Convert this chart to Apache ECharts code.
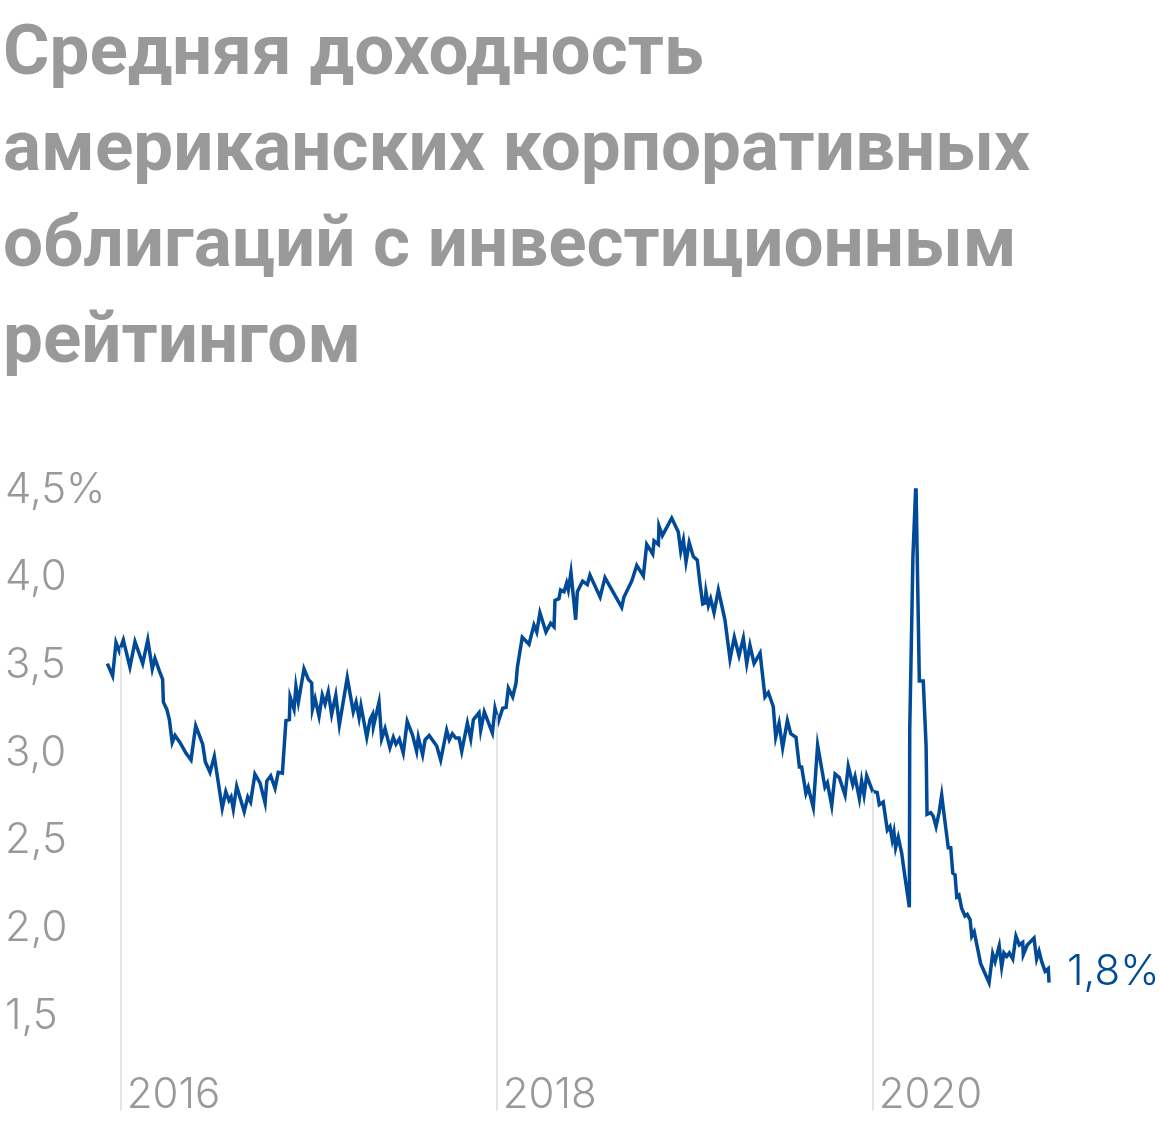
<!DOCTYPE html>
<html>
<head>
<meta charset="utf-8">
<script src="https://cdn.jsdelivr.net/npm/echarts@6/dist/echarts.min.js"></script>
<style>
  html, body { margin: 0; padding: 0; background: #fff; }
  #chart { width: 1160px; height: 1128px; }
</style>
</head>
<body>
<div id="chart"></div>
<script>
// дата в долях года -> доходность, %
const years = [
  2015.929, 2015.957, 2015.975, 2015.993, 2016.014, 2016.049, 2016.076, 2016.117, 2016.144, 2016.168,
  2016.182, 2016.205, 2016.223, 2016.227, 2016.245, 2016.259, 2016.274, 2016.289, 2016.315, 2016.347,
  2016.374, 2016.399, 2016.422, 2016.436, 2016.450, 2016.475, 2016.498, 2016.540, 2016.559, 2016.576,
  2016.587, 2016.599, 2016.617, 2016.657, 2016.676, 2016.691, 2016.714, 2016.741, 2016.768, 2016.777,
  2016.798, 2016.821, 2016.838, 2016.860, 2016.879, 2016.897, 2016.901, 2016.922, 2016.932, 2016.945,
  2016.975, 2016.998, 2017.016, 2017.020, 2017.034, 2017.055, 2017.072, 2017.087, 2017.104, 2017.122,
  2017.144, 2017.163, 2017.205, 2017.237, 2017.252, 2017.268, 2017.278, 2017.309, 2017.326, 2017.340,
  2017.344, 2017.374, 2017.388, 2017.406, 2017.432, 2017.450, 2017.464, 2017.482, 2017.503, 2017.524,
  2017.553, 2017.574, 2017.583, 2017.606, 2017.619, 2017.641, 2017.681, 2017.702, 2017.734, 2017.748,
  2017.764, 2017.782, 2017.800, 2017.814, 2017.844, 2017.862, 2017.876, 2017.906, 2017.915, 2017.934,
  2017.977, 2017.991, 2018.009, 2018.032, 2018.050, 2018.062, 2018.085, 2018.103, 2018.110, 2018.136,
  2018.172, 2018.198, 2018.213, 2018.230, 2018.262, 2018.287, 2018.305, 2018.310, 2018.331, 2018.340,
  2018.358, 2018.372, 2018.381, 2018.395, 2018.420, 2018.429, 2018.457, 2018.482, 2018.496, 2018.550,
  2018.576, 2018.665, 2018.677, 2018.718, 2018.745, 2018.780, 2018.798, 2018.830, 2018.837, 2018.860,
  2018.863, 2018.881, 2018.931, 2018.966, 2018.979, 2018.993, 2019.007, 2019.024, 2019.046, 2019.067,
  2019.081, 2019.096, 2019.108, 2019.113, 2019.126, 2019.138, 2019.156, 2019.179, 2019.214, 2019.241,
  2019.264, 2019.289, 2019.312, 2019.330, 2019.347, 2019.369, 2019.401, 2019.427, 2019.445, 2019.471,
  2019.484, 2019.502, 2019.521, 2019.546, 2019.564, 2019.592, 2019.610, 2019.622, 2019.645, 2019.657,
  2019.684, 2019.707, 2019.746, 2019.759, 2019.782, 2019.800, 2019.822, 2019.853, 2019.870, 2019.894,
  2019.906, 2019.929, 2019.941, 2019.954, 2019.968, 2020.000, 2020.024, 2020.035, 2020.056, 2020.078,
  2020.092, 2020.104, 2020.113, 2020.122, 2020.136, 2020.154, 2020.172, 2020.195, 2020.197, 2020.214,
  2020.230, 2020.248, 2020.269, 2020.284, 2020.289, 2020.309, 2020.322, 2020.337, 2020.353, 2020.367,
  2020.376, 2020.385, 2020.402, 2020.415, 2020.426, 2020.438, 2020.447, 2020.459, 2020.473, 2020.491,
  2020.503, 2020.518, 2020.527, 2020.540, 2020.574, 2020.619, 2020.638, 2020.651, 2020.673, 2020.686,
  2020.698, 2020.713, 2020.727, 2020.745, 2020.762, 2020.780, 2020.798, 2020.801, 2020.822, 2020.858,
  2020.872, 2020.885, 2020.899, 2020.907, 2020.917, 2020.934, 2020.938
];
const yields = [
  3.51, 3.44, 3.63, 3.58, 3.645, 3.49, 3.635, 3.51, 3.645, 3.48,
  3.54, 3.47, 3.42, 3.29, 3.25, 3.19, 3.06, 3.10, 3.06, 3.00,
  2.96, 3.155, 3.09, 3.05, 2.95, 2.89, 2.98, 2.685, 2.78, 2.73,
  2.75, 2.68, 2.81, 2.665, 2.75, 2.72, 2.88, 2.83, 2.715, 2.84,
  2.87, 2.80, 2.89, 2.885, 3.185, 3.19, 3.32, 3.25, 3.38, 3.29,
  3.48, 3.42, 3.40, 3.25, 3.31, 3.21, 3.33, 3.28, 3.35, 3.22,
  3.33, 3.16, 3.43, 3.235, 3.29, 3.20, 3.27, 3.09, 3.19, 3.22,
  3.15, 3.29, 3.08, 3.14, 3.03, 3.09, 3.05, 3.08, 3.00, 3.18,
  3.10, 3.01, 3.09, 2.99, 3.075, 3.10, 3.04, 2.96, 3.13, 3.075,
  3.11, 3.085, 3.085, 3.01, 3.17, 3.08, 3.19, 3.23, 3.13, 3.235,
  3.115, 3.255, 3.18, 3.255, 3.26, 3.37, 3.32, 3.40, 3.49, 3.66,
  3.62, 3.73, 3.69, 3.80, 3.69, 3.74, 3.72, 3.87, 3.88, 3.93,
  3.92, 3.97, 3.93, 4.03, 3.76, 3.92, 3.98, 3.96, 4.015, 3.89,
  4.00, 3.83, 3.89, 3.98, 4.07, 4.01, 4.19, 4.135, 4.21, 4.19,
  4.295, 4.24, 4.34, 4.26, 4.15, 4.215, 4.09, 4.20, 4.12, 4.10,
  3.97, 3.85, 3.855, 3.92, 3.84, 3.88, 3.80, 3.93, 3.76, 3.535,
  3.66, 3.555, 3.655, 3.51, 3.615, 3.51, 3.57, 3.32, 3.345, 3.265,
  3.09, 3.17, 3.03, 3.185, 3.11, 3.09, 2.92, 2.92, 2.77, 2.805,
  2.69, 3.045, 2.805, 2.83, 2.70, 2.88, 2.86, 2.76, 2.925, 2.82,
  2.865, 2.74, 2.84, 2.76, 2.87, 2.78, 2.775, 2.705, 2.72, 2.56,
  2.58, 2.505, 2.55, 2.46, 2.52, 2.43, 2.29, 2.12, 3.13, 4.12,
  4.55, 3.41, 3.41, 3.04, 2.65, 2.66, 2.64, 2.58, 2.66, 2.76,
  2.68, 2.69, 2.46, 2.46, 2.315, 2.305, 2.18, 2.19, 2.115, 2.07,
  2.08, 2.05, 1.955, 1.98, 1.80, 1.69, 1.855, 1.81, 1.90, 1.78,
  1.86, 1.84, 1.86, 1.825, 1.955, 1.905, 1.92, 1.85, 1.905, 1.945,
  1.825, 1.87, 1.81, 1.82, 1.755, 1.77, 1.69
];
const yearTicks = [2016, 2018, 2020];
const yieldTicks = [1.5, 2, 2.5, 3, 3.5, 4, 4.5];
const lastLabel = '1,8%';
const titleLines = [
  'Средняя доходность',
  'американских корпоративных',
  'облигаций с инвестиционным',
  'рейтингом'
];

const BLUE = '#004a98';
const GRAY = '#999999';
const Y_MIN = 0.96;
const LABEL_FONT = 'Inter, Roboto, sans-serif';

// значение ряда в момент начала года (для вертикальных линий)
function valueAt(x) {
  for (let i = 1; i < years.length; i++) {
    if (years[i] >= x) {
      const t = (x - years[i - 1]) / (years[i] - years[i - 1]);
      return yields[i - 1] + t * (yields[i] - yields[i - 1]);
    }
  }
  return yields[yields.length - 1];
}

const chart = echarts.init(document.getElementById('chart'));
const option = {
  animation: false,
  title: {
    text: titleLines.join('\n'),
    left: -2,
    top: 3,
    textStyle: {
      fontFamily: 'Roboto',
      fontWeight: 'bold',
      fontSize: 71,
      lineHeight: 96,
      color: GRAY
    }
  },
  grid: { left: 101.9, right: 99.3, top: 490, bottom: 17.3 },
  xAxis: {
    type: 'value',
    min: 2015.9,
    max: 2021,
    axisLine: { show: false },
    axisTick: { show: false },
    splitLine: { show: false },
    axisLabel: {
      customValues: yearTicks,
      inside: true,
      margin: -6,
      align: 'left',
      padding: [0, 0, 0, 6],
      fontFamily: LABEL_FONT,
      fontWeight: 300,
      fontSize: 42,
      color: GRAY,
      formatter: v => String(v)
    }
  },
  yAxis: {
    type: 'value',
    min: Y_MIN,
    max: 4.5,
    axisLine: { show: false },
    axisTick: { show: false },
    splitLine: { show: false },
    axisLabel: {
      customValues: yieldTicks,
      margin: 97,
      align: 'left',
      fontFamily: LABEL_FONT,
      fontWeight: 300,
      fontSize: 42,
      color: GRAY,
      formatter: v => v.toFixed(1).replace('.', ',') + (v === 4.5 ? '%' : '')
    }
  },
  series: [
    {
      type: 'line',
      data: [],
      z: 1,
      silent: true,
      markLine: {
        silent: true,
        symbol: 'none',
        label: { show: false },
        lineStyle: { color: '#dcdcdc', width: 1.5, type: 'solid' },
        data: yearTicks.map(y => [{ coord: [y, valueAt(y)] }, { coord: [y, Y_MIN] }])
      }
    },
    {
      type: 'line',
      z: 3,
      data: years.map((x, i) => [x, yields[i]]),
      showSymbol: false,
      lineStyle: { color: BLUE, width: 3.5, join: 'miter' },
      itemStyle: { color: BLUE },
      endLabel: {
        show: true,
        formatter: lastLabel,
        color: BLUE,
        fontFamily: LABEL_FONT,
        fontWeight: 300,
        fontSize: 42,
        offset: [10, -10]
      }
    }
  ]
};
chart.setOption(option);
</script>
</body>
</html>
